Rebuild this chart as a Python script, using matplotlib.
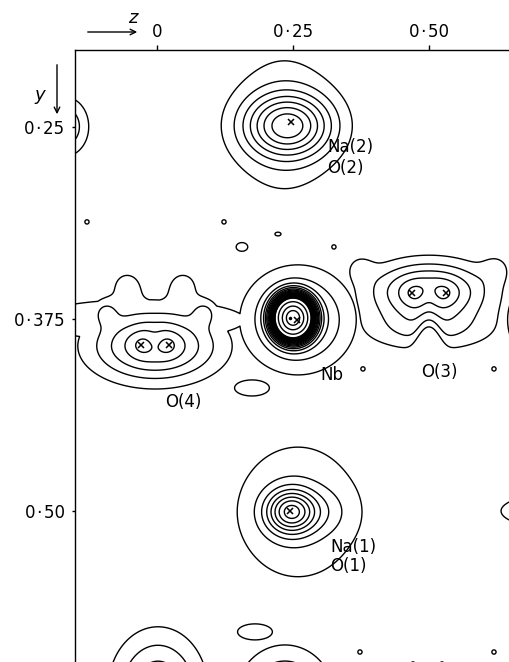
import numpy as np
import matplotlib.pyplot as plt

plt.rcParams['font.family'] = ['DejaVu Sans']

# density peaks: site id, position (z, y), height, widths
comp_site = [0, 0,
             1, 1, 1,
             2, 2,
             3, 3,
             4, 4, 4, 4, 4, 4, 4, 4,
             5, 5, 5, 5, 5, 5, 5, 5,
             6, 7, 8, 9, 10, 11, 12, 13,
             14, 15, 16, 17, 18, 19, 20, 21, 22, 23, 24]
comp_z = [0.241, 0.2337,
          0.2466, 0.2594, 0.3126,
          0.2503, 0.2594,
          0.75, 0.7515,
          -0.0031, -0.0288, 0.0226, -0.0031, -0.0545, 0.0483, -0.0951, 0.0887,
          0.5, 0.5, 0.5, 0.4688, 0.5312, 0.5, 0.3733, 0.6231,
          -0.1684, 0.7405, 0.0024, 0.2356, -0.0307, 0.1805, 0.175, 0.1566,
          -0.128, 0.1236, 0.2227, 0.3255, -0.1555, 0.3788, 0.6194, 0.3733, 0.6194, 0.4706, 0.5239]
comp_y = [0.2495, 0.2482,
          0.5008, 0.5008, 0.5008,
          0.3745, 0.3758,
          0.3745, 0.3758,
          0.3928, 0.3921, 0.3921, 0.3889, 0.3531, 0.3531, 0.3706, 0.3706,
          0.357, 0.3824, 0.3999, 0.3583, 0.3583, 0.3616, 0.342, 0.342,
          0.25, 0.5002, 0.6167, 0.6232, 0.3758, 0.5789, 0.4201, 0.3283,
          0.312, 0.312, 0.3199, 0.3283, 0.327, 0.4077, 0.4077, 0.592, 0.592, 0.5998, 0.5998]
comp_h = [6.3, 1.6,
          6.5, 2.0, 0.8,
          68.0, 4.0,
          68.0, 4.0,
          5.0, 0.6, 0.6, -0.4, 1.2, 1.2, 1.5, 1.5,
          5.0, 2.0, -4.0, 0.6, 0.6, -0.4, 1.0, 1.0,
          3.0, 2.0, 4.0, 4.0, 1.3, 1.3, 1.3, 1.3,
          1.2, 1.2, 1.2, 1.2, 1.2, 1.2, 1.2, 1.2, 1.2, 1.2, 1.2]
comp_wz = [0.0551, 0.0734,
           0.0312, 0.0918, 0.033,
           0.0196, 0.0643,
           0.0196, 0.0643,
           0.079, 0.0147, 0.0147, 0.011, 0.0257, 0.0257, 0.0165, 0.0165,
           0.0734, 0.0881, 0.0147, 0.0147, 0.0147, 0.011, 0.0184, 0.0184,
           0.0294, 0.0918, 0.0551, 0.0551, 0.2662, 0.0441, 0.0441, 0.0147,
           0.0064, 0.0064, 0.0092, 0.0064, 0.0064, 0.0064, 0.0064, 0.0064, 0.0064, 0.0064, 0.0064]
comp_wy = [0.0143, 0.0391,
           0.0098, 0.0358, 0.0104,
           0.0077, 0.0215,
           0.0077, 0.0215,
           0.0156, 0.0052, 0.0052, 0.0065, 0.0091, 0.0091, 0.0059, 0.0059,
           0.013, 0.0104, 0.0163, 0.0052, 0.0052, 0.0065, 0.0065, 0.0065,
           0.013, 0.0098, 0.0247, 0.0215, 0.0182, 0.0072, 0.0072, 0.0039,
           0.0023, 0.0023, 0.002, 0.0023, 0.0023, 0.0023, 0.0023, 0.0023, 0.0023, 0.0023, 0.0023]

levels = list(range(1, 21)) + [30, 45, 60]

# atom positions (crosses)
atom_z = [0.2468, 0.2448, 0.2576, -0.0288, 0.0226, 0.4688, 0.5312]
atom_y = [0.2469, 0.5002, 0.3758, 0.3921, 0.3921, 0.3583, 0.3583]
dot_z, dot_y = [0.2448], [0.3745]

labels = ['Na(2)', 'O(2)', 'Nb', 'O(3)', 'O(4)', 'Na(1)', 'O(1)']
label_z = [0.3127, 0.3127, 0.2997, 0.4854, 0.0152, 0.3183, 0.3183]
label_y = [0.2632, 0.2769, 0.4116, 0.4097, 0.4292, 0.5236, 0.536]

zt = [0, 0.25, 0.50]
zt_lab = ['0', '0\u200a·\u200a25', '0\u200a·\u200a50']
yt = [0.25, 0.375, 0.50]
yt_lab = ['0\u200a·\u200a25', '0\u200a·\u200a375', '0\u200a·\u200a50']

# build density: each site sums its parts, sites are combined by max
zz, yy = np.meshgrid(np.linspace(-0.16, 0.66, 900), np.linspace(0.195, 0.605, 1300))
rho = np.zeros_like(zz)
site_arr = np.array(comp_site)
for s in np.unique(site_arr):
    part = np.zeros_like(zz)
    for k in np.where(site_arr == s)[0]:
        part += comp_h[k] * np.exp(-0.5 * (((zz - comp_z[k]) / comp_wz[k]) ** 2
                                          + ((yy - comp_y[k]) / comp_wy[k]) ** 2))
    rho = np.maximum(rho, part)

fig = plt.figure(figsize=(5.09, 6.62), dpi=100)
ax = fig.add_axes([75 / 509, 0, 434 / 509, 612 / 662])
ax.contour(zz, yy, rho, levels=levels, colors='black', linewidths=1.0)
ax.plot(atom_z, atom_y, 'x', color='black', ms=4.5, mew=1.1)
ax.plot(dot_z, dot_y, '.', color='black', ms=3)

for t, z, y in zip(labels, label_z, label_y):
    ax.text(z, y, t, fontsize=12, ha='left', va='center')

ax.set_xlim(-0.150, 0.647)
ax.set_ylim(0.5985, 0.2001)
ax.xaxis.tick_top()
ax.set_xticks(zt)
ax.set_xticklabels(zt_lab, fontsize=12)
ax.set_yticks(yt)
ax.set_yticklabels(yt_lab, fontsize=12)
ax.tick_params(axis='x', length=3.5, width=1, pad=3)
ax.tick_params(axis='y', length=2.5, width=1, pad=5)
for side in ['right', 'bottom']:
    ax.spines[side].set_visible(False)
for side in ['left', 'top']:
    ax.spines[side].set_linewidth(1.0)

# axis direction arrows
ax.annotate('', xy=(140, 662 - 32), xytext=(85, 662 - 32), xycoords='figure pixels',
            textcoords='figure pixels', arrowprops=dict(arrowstyle='->', lw=1.0, color='black'))
fig.text(133 / 509, 1 - 18 / 662, 'z', fontsize=13, style='italic', ha='center', va='center')
ax.annotate('', xy=(57, 662 - 117), xytext=(57, 662 - 62), xycoords='figure pixels',
            textcoords='figure pixels', arrowprops=dict(arrowstyle='->', lw=1.0, color='black'))
fig.text(40 / 509, 1 - 95 / 662, 'y', fontsize=13, style='italic', ha='center', va='center')

fig.savefig('out.png', dpi=100)
